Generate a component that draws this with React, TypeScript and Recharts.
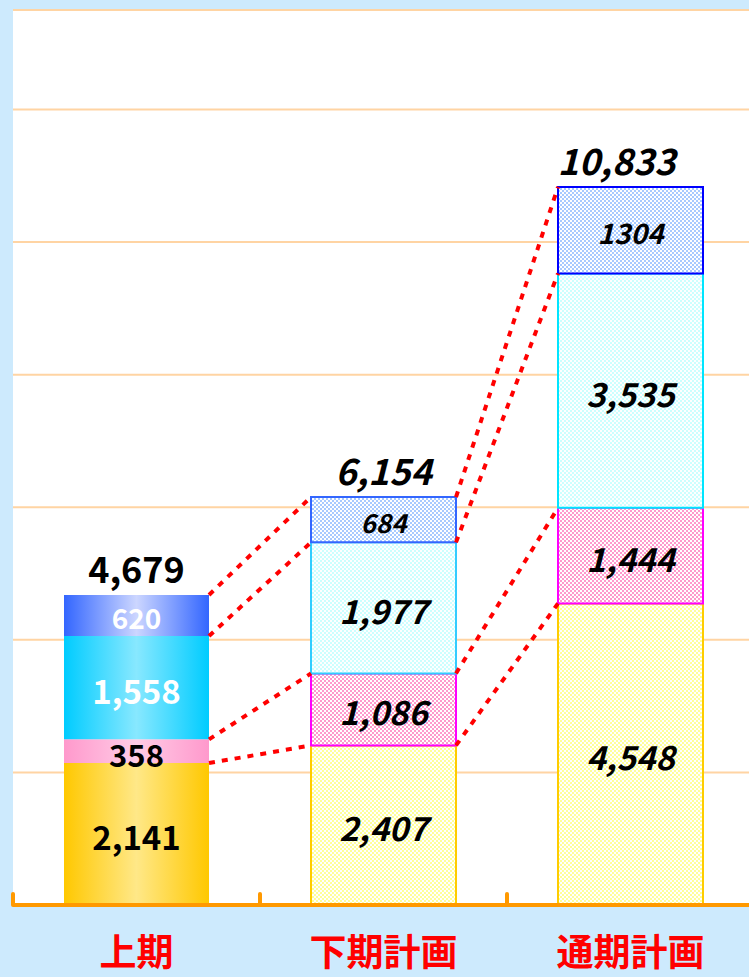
import React from "react";
import { ComposedChart, Bar, XAxis, YAxis, CartesianGrid, Cell, LabelList, ReferenceLine } from "recharts";

const categories = ["上期", "下期計画", "通期計画"];
const goldValues = [2141, 2407, 4548];
const pinkValues = [358, 1086, 1444];
const cyanValues = [1558, 1977, 3535];
const blueValues = [620, 684, 1304];
const blueLabels = ["620", "684", "1304"];
const totals = [4679, 6154, 10833];
const gridTicks = [2000, 4000, 6000, 8000, 10000, 12000];

const FONT = "'Noto Sans CJK JP', 'Noto Sans', sans-serif";
const BAR_HALF = 72.5 / 247; // half bar width in category units

const data = categories.map((name, i) => ({
  x: i + 0.5,
  name,
  gold: goldValues[i],
  pink: pinkValues[i],
  cyan: cyanValues[i],
  blue: blueValues[i],
}));

// tops of each segment, used for the dotted connectors
const segTops = categories.map((_, i) => [
  goldValues[i],
  goldValues[i] + pinkValues[i],
  goldValues[i] + pinkValues[i] + cyanValues[i],
  goldValues[i] + pinkValues[i] + cyanValues[i] + blueValues[i],
]);

const fmt = (v: number) => v.toLocaleString("en-US");

const patterns = [
  { id: "pGold", color: "#ffff99", stroke: ["none", "#ffcc00", "#ffcc00"] },
  { id: "pPink", color: "#ff99cc", stroke: ["none", "#ff00ff", "#ff00ff"] },
  { id: "pCyan", color: "#ccffff", stroke: ["none", "#33ccff", "#00e5ff"] },
  { id: "pBlue", color: "#a8caff", stroke: ["none", "#3366ff", "#0000ff"] },
];

const gradients = [
  { id: "gGold", edge: "#ffc800", mid: "#ffe888" },
  { id: "gPink", edge: "#ff99cc", mid: "#ffcce6" },
  { id: "gCyan", edge: "#00ccff", mid: "#88e8ff" },
  { id: "gBlue", edge: "#3366ff", mid: "#ccd6ff" },
];

function segLabel(texts: string[], sizes: number[], firstColor: string) {
  return (props: any) => {
    const { x, y, width, height, index } = props;
    const first = index === 0;
    return (
      <text
        x={x + width / 2}
        y={y + height / 2 + 2}
        textAnchor="middle"
        dominantBaseline="central"
        fontFamily={FONT}
        fontWeight="bold"
        fontStyle={first ? "normal" : "italic"}
        fontSize={sizes[index]}
        fill={first ? firstColor : "#000"}
      >
        {texts[index]}
      </text>
    );
  };
}

function totalLabel(props: any) {
  const { x, y, width, index } = props;
  return (
    <text
      x={x + width / 2 + (index === 2 ? -14 : 0)}
      y={y - 12}
      textAnchor="middle"
      fontFamily={FONT}
      fontWeight="bold"
      fontStyle={index === 0 ? "normal" : "italic"}
      fontSize={36}
      fill="#000"
    >
      {fmt(totals[index])}
    </text>
  );
}

function AxisTick(props: any) {
  const { x, y, payload } = props;
  const v = payload.value;
  if (Number.isInteger(v)) {
    return <line x1={x} x2={x} y1={y} y2={y - 11} stroke="#ff9900" strokeWidth={4} strokeLinecap="round" />;
  }
  return (
    <text x={x} y={y + 61} textAnchor="middle" fontFamily={FONT} fontWeight="bold" fontSize={37} fill="#ff0000">
      {categories[Math.floor(v)]}
    </text>
  );
}

const series = [
  { key: "gold", values: goldValues, texts: goldValues.map(fmt), sizes: [33, 33, 33], firstColor: "#000" },
  { key: "pink", values: pinkValues, texts: pinkValues.map(fmt), sizes: [31, 33, 33], firstColor: "#000" },
  { key: "cyan", values: cyanValues, texts: cyanValues.map(fmt), sizes: [33, 33, 33], firstColor: "#fff" },
  { key: "blue", values: blueValues, texts: blueLabels, sizes: [28, 26, 28], firstColor: "#fff" },
];

export default function App() {
  return (
    <div style={{ position: "absolute", top: 0, left: 0, width: 749, height: 977, overflow: "hidden", background: "#cdeafd" }}>
      <ComposedChart width={760} height={977} data={data} margin={{ top: 10, right: 6, bottom: 0, left: 13 }}>
        <defs>
          {patterns.map((p) => (
            <pattern key={p.id} id={p.id} width={4} height={4} patternUnits="userSpaceOnUse">
              <rect width={4} height={4} fill="#fff" />
              <rect width={2} height={2} fill={p.color} />
              <rect x={2} y={2} width={2} height={2} fill={p.color} />
            </pattern>
          ))}
          {gradients.map((g) => (
            <linearGradient key={g.id} id={g.id} x1="0" y1="0" x2="1" y2="0">
              <stop offset="0%" stopColor={g.edge} />
              <stop offset="50%" stopColor={g.mid} />
              <stop offset="100%" stopColor={g.edge} />
            </linearGradient>
          ))}
        </defs>
        <CartesianGrid vertical={false} fill="#fff" stroke="#ffd4a3" strokeWidth={2} />
        <YAxis hide domain={[0, 13500]} ticks={gridTicks} />
        <XAxis
          dataKey="x"
          type="number"
          domain={[0, 3]}
          ticks={[0, 0.5, 1, 1.5, 2, 2.5, 3]}
          interval={0}
          height={72}
          tickSize={0}
          tickMargin={0}
          tickLine={false}
          axisLine={{ stroke: "#ff9900", strokeWidth: 4 }}
          tick={<AxisTick />}
          allowDataOverflow
        />
        {series.map((s, si) => (
          <Bar key={s.key} dataKey={s.key} stackId="a" barSize={145} isAnimationActive={false}>
            {s.values.map((_, i) => (
              <Cell
                key={i}
                fill={i === 0 ? `url(#${gradients[si].id})` : `url(#${patterns[si].id})`}
                stroke={patterns[si].stroke[i]}
                strokeWidth={2}
              />
            ))}
            <LabelList dataKey={s.key} content={segLabel(s.texts, s.sizes, s.firstColor)} />
            {si === series.length - 1 && <LabelList dataKey={s.key} content={totalLabel} />}
          </Bar>
        ))}
        {[0, 1].map((c) =>
          [0, 1, 2, 3].map((k) => (
            <ReferenceLine
              key={`${c}-${k}`}
              segment={[
                { x: c + 0.5 + BAR_HALF, y: segTops[c][k] },
                { x: c + 1.5 - BAR_HALF, y: segTops[c + 1][k] },
              ]}
              stroke="#ff0000"
              strokeWidth={4}
              strokeDasharray="6 7"
              ifOverflow="visible"
            />
          ))
        )}
      </ComposedChart>
    </div>
  );
}
